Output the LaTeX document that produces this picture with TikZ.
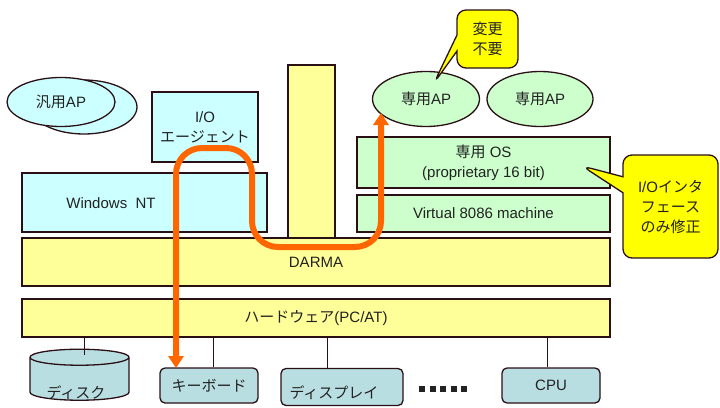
\documentclass[tikz,border=0pt]{standalone}
\usepackage{fontspec}
\setmainfont{Liberation Sans}
\newfontfamily\jp{Noto Sans CJK JP}
\usepackage{xcolor}
\usepackage{tikz}
\usetikzlibrary{shapes,arrows,positioning,calc,arrows.meta,shapes.geometric,shapes.callouts}

\definecolor{ntfill}{HTML}{CCFFFF}
\definecolor{osfill}{HTML}{CCFFCC}
\definecolor{darmafill}{HTML}{FFFF99}
\definecolor{devfill}{HTML}{B9DEE2}
\definecolor{noteyel}{HTML}{FFFF00}
\definecolor{flow}{HTML}{FF6600}
\definecolor{edge}{HTML}{2A1015}
\definecolor{txt}{HTML}{222222}

\begin{document}
\begin{tikzpicture}[x=1pt, y=-1pt,
    every node/.style={font=\fontsize{15}{20}\selectfont, text=txt},
    box/.style={draw=edge, line width=1.3pt, inner sep=0pt},
    ap/.style={box, ellipse},
    dev/.style={box, rounded corners=5pt, fill=devfill},
    note/.style={rectangle callout, draw=edge, line width=1.3pt, fill=noteyel, rounded corners=9pt, align=center, callout pointer width=16pt},
    wire/.style={draw=edge, line width=1pt},
    flowline/.style={draw=flow, line width=6pt, rounded corners=26pt, {Triangle[width=15pt,length=12pt]}-{Triangle[width=15pt,length=12pt]}}]
    \useasboundingbox (0,0) rectangle (720,407);

    % Windows NT side
    \node[ap, fill=ntfill, minimum width=106pt, minimum height=54pt] (genap-back) at (84,107) {};
    \node[ap, fill=ntfill, minimum width=108pt, minimum height=49pt] (genap) at (61,102) {{\jp 汎用}AP};
    \node[box, fill=ntfill, minimum width=106pt, minimum height=70pt, align=center] (ioagent) at (205,127) {I/O\\{\jp エージェント}};
    \node[box, fill=ntfill, minimum width=245pt, minimum height=59pt] (winnt) at (144.5,202.5) {};
    \node (winnt-text) at (111,203) {Windows\ \ NT};

    % DARMA and hardware layers
    \node[box, fill=darmafill, minimum width=47pt, minimum height=175pt] (bar) at (311.5,152.5) {};
    \node[box, fill=darmafill, minimum width=588pt, minimum height=48pt] (darma) at (316,262) {DARMA};
    \node[box, fill=darmafill, minimum width=588pt, minimum height=38pt] (hw) at (316,318) {{\jp ハードウェア}(PC/AT)};

    % proprietary side
    \node[ap, fill=osfill, minimum width=107pt, minimum height=55pt] (ap1) at (426,99) {{\jp 専用}AP};
    \node[ap, fill=osfill, minimum width=106pt, minimum height=55pt] (ap2) at (540,99) {{\jp 専用}AP};
    \node[box, fill=osfill, minimum width=253pt, minimum height=51pt, align=center] (os) at (483.5,162.5) {{\jp 専用} OS\\(proprietary 16 bit)};
    \node[box, fill=osfill, minimum width=253pt, minimum height=37pt] (vm) at (483.5,213.5) {Virtual 8086 machine};

    % notes
    \node[note, minimum width=61pt, minimum height=58pt, callout absolute pointer={(434,83)}] (nochange) at (487.5,39) {{\jp 変更}\\{\jp 不要}};
    \node[note, minimum width=95pt, minimum height=103pt, callout absolute pointer={(582,166)}] (ioonly) at (670.5,206.5) {I/O{\jp インタ}\\{\jp フェース}\\{\jp のみ修正}};

    % devices
    \node[cylinder, shape border rotate=90, draw=edge, line width=1.3pt, fill=devfill, minimum width=99pt, minimum height=51pt, aspect=2.4] (disk) at (79.5,380.5) {};
    \node (disk-text) at (76,393) {\jp ディスク};
    \node[dev, minimum width=98pt, minimum height=35pt] (kbd) at (209,385.5) {\jp キーボード};
    \node[dev, minimum width=122pt, minimum height=37pt] (disp) at (342,387) {};
    \node (disp-text) at (334,393) {\jp ディスプレイ};
    \node (dots) at (443,389) {\rule{6pt}{6pt}\hspace{4.5pt}\rule{6pt}{6pt}\hspace{4.5pt}\rule{6pt}{6pt}\hspace{4.5pt}\rule{6pt}{6pt}\hspace{4.5pt}\rule{6pt}{6pt}};
    \node[dev, minimum width=98pt, minimum height=35pt] (cpu) at (551,385.5) {CPU};

    \draw[wire] (hw.south -| 84,0) -- ([yshift=-6pt]84,0 |- disk.north);
    \draw[wire] (hw.south -| 213,0) -- (213,0 |- kbd.north);
    \draw[wire] (hw.south -| 327,0) -- (327,0 |- disp.north);
    \draw[wire] (hw.south -| 547,0) -- (547,0 |- cpu.north);

    % I/O path through DARMA
    \coordinate (flow-top) at (381,113);
    \coordinate (flow-kbd) at (176,368);
    \draw[flowline] (flow-top) -- (381,247) -- (252,247) -- (252,148) -- (176,148) -- (flow-kbd);
\end{tikzpicture}
\end{document}
